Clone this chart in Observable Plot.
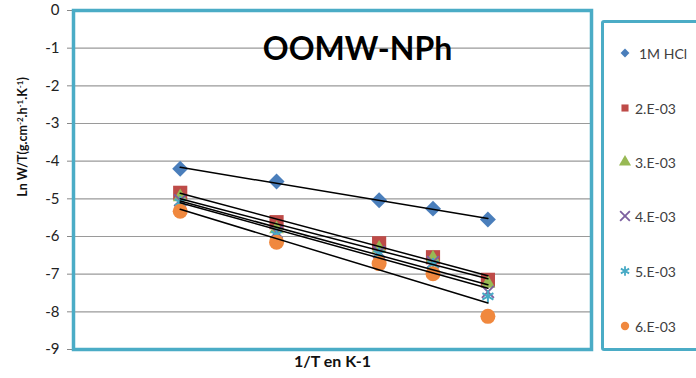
<!DOCTYPE html>
<html><head><meta charset="utf-8">
<script src="https://cdn.jsdelivr.net/npm/d3@7"></script>
<script src="https://cdn.jsdelivr.net/npm/@observablehq/plot@0.6"></script>
<style>
body{margin:0;background:#fff;font-family:Lato,"Open Sans",sans-serif;}
#wrap{position:relative;width:696px;height:378px;overflow:hidden;background:#fff;}
#legend{position:absolute;left:601px;top:20px;width:120px;height:325px;border:3px solid #4BACC6;border-radius:3px;}
.item{position:absolute;left:14px;height:20px;display:flex;align-items:center;font-size:14px;color:#404040;}
.item svg{margin-right:3px;}
#ylabel{position:absolute;left:23px;top:137px;transform:translate(-50%,-50%) rotate(-90deg);white-space:nowrap;font-weight:bold;font-size:12.5px;color:#111;line-height:14px;}
#ylabel sup{font-size:8px;vertical-align:4px;line-height:0;}
</style>
</head><body>
<div id="wrap"></div>
<script>
// 1/T (K^-1)
const invT = [0.003003, 0.003096, 0.003195, 0.003247, 0.003300];
const seriesNames = ["1M HCl", "2.E-03", "3.E-03", "4.E-03", "5.E-03", "6.E-03"];
const hcl = [-4.20, -4.54, -5.04, -5.26, -5.55];
const c2 = [-4.84, -5.62, -6.18, -6.55, -7.15];
const c3 = [-4.95, -5.80, -6.32, -6.58, -7.25];
const c4 = [-5.04, -5.88, -6.41, -6.68, -7.47];
const c5 = [-5.09, -5.95, -6.46, -6.74, -7.59];
const c6 = [-5.33, -6.15, -6.72, -6.99, -8.12];
const yTicks = [0, -1, -2, -3, -4, -5, -6, -7, -8, -9];

const values = [hcl, c2, c3, c4, c5, c6];
const styles = [
  {symbol: "diamond2", color: "#4A7EBB", r: 7.2, filled: true, lr: 4.0},
  {symbol: "square", color: "#BE4B48", r: 8.0, filled: true, lr: 4.0},
  {symbol: "triangle", color: "#98B954", r: 5.5, filled: true, lr: 4.5},
  {symbol: "times", color: "#7D60A0", r: 5.5, filled: false, lr: 4.5},
  {symbol: "asterisk", color: "#46AAC5", r: 6.0, filled: false, lr: 4.5},
  {symbol: "circle", color: "#F0883E", r: 7.5, filled: true, lr: 4.2}
];

const data = [];
seriesNames.forEach((s, i) => values[i].forEach((v, j) => data.push({series: s, x: invT[j], y: v})));

const dotMarks = seriesNames.map((s, i) => {
  const st = styles[i];
  const d = data.filter(e => e.series === s);
  return Plot.dot(d, st.filled
    ? {x: "x", y: "y", symbol: () => st.symbol, r: st.r, fill: st.color, stroke: "none"}
    : {x: "x", y: "y", symbol: () => st.symbol, r: st.r, fill: "none", stroke: st.color, strokeWidth: 2});
});

const chart = Plot.plot({
  width: 696, height: 378,
  marginLeft: 73, marginRight: 105, marginTop: 10, marginBottom: 29,
  style: {fontFamily: "Lato, 'Open Sans', sans-serif", background: "#fff"},
  x: {domain: [0.0029, 0.0034], axis: null},
  y: {domain: [-9, 0], axis: null},
  symbol: {type: "identity"},
  marks: [
    Plot.gridY(yTicks, {stroke: "#9a9a9a", strokeOpacity: 1, strokeWidth: 1.2}),
    Plot.axisY(yTicks, {label: null, tickSize: 6, tickPadding: 8, tickFormat: d => String(d), fontSize: 15, color: "#222", stroke: "#888"}),
    ...dotMarks,
    Plot.linearRegressionY(data, {x: "x", y: "y", z: "series", stroke: "black", strokeWidth: 1.5, ci: 0}),
    Plot.frame({stroke: "#4BACC6", strokeWidth: 3.5}),
    Plot.text(["OOMW-NPh"], {frameAnchor: "top", dx: 25, dy: 27, fontSize: 32, fontWeight: "bold", fill: "#000"}),
    Plot.text(["1/T en K-1"], {frameAnchor: "bottom", dy: 17, fontSize: 16, fontWeight: "bold", fill: "#111"})
  ]
});
const wrap = document.getElementById("wrap");
wrap.appendChild(chart);

// y-axis title
const yl = document.createElement("div");
yl.id = "ylabel";
yl.innerHTML = "Ln W/T(g.cm<sup>-2</sup>.h<sup>-1</sup>.K<sup>-1</sup>)";
wrap.appendChild(yl);

// legend
const legend = document.createElement("div");
legend.id = "legend";
wrap.appendChild(legend);
const legendY = [30, 85, 139, 193, 248, 303];
seriesNames.forEach((s, i) => {
  const st = styles[i];
  const item = document.createElement("div");
  item.className = "item";
  item.style.top = (legendY[i] - 10) + "px";
  const svg = d3.create("svg").attr("width", 14).attr("height", 14);
  const symMap = {diamond2: d3.symbolDiamond2, square: d3.symbolSquare, triangle: d3.symbolTriangle, times: d3.symbolTimes, asterisk: d3.symbolAsterisk, circle: d3.symbolCircle};
  svg.append("path")
    .attr("transform", "translate(7,7)")
    .attr("d", d3.symbol(symMap[st.symbol], Math.PI * st.lr * st.lr)())
    .attr("fill", st.filled ? st.color : "none")
    .attr("stroke", st.filled ? "none" : st.color)
    .attr("stroke-width", st.filled ? 0 : 1.8);
  item.appendChild(svg.node());
  const t = document.createElement("span");
  t.textContent = s;
  if (i === 0) t.style.marginLeft = "4px";
  item.appendChild(t);
  legend.appendChild(item);
});
</script>
</body></html>
